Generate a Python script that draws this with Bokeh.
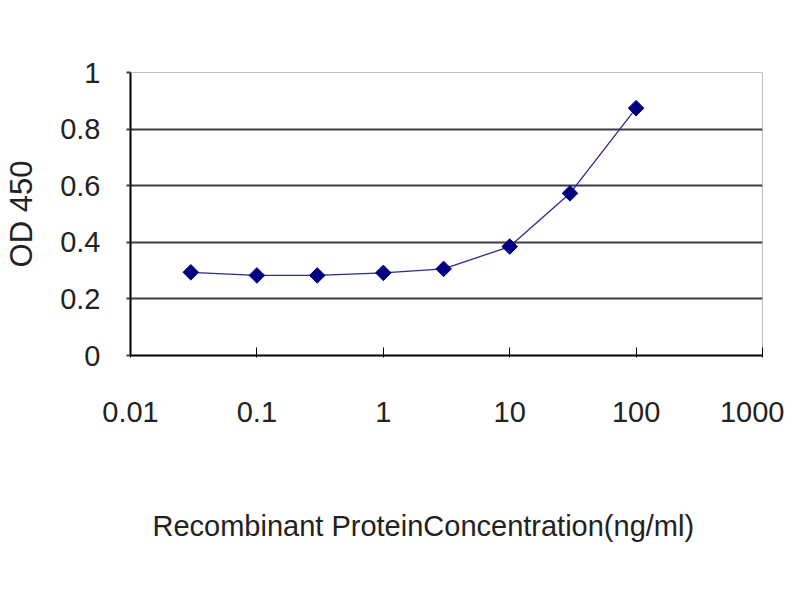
import math
from bokeh.plotting import figure
from bokeh.models import FixedTicker, Range1d, Title
from bokeh.embed import file_html
from bokeh.resources import INLINE

# Data
concentration = [0.03, 0.1, 0.3, 1, 3, 10, 30, 100]
od450 = [0.294, 0.283, 0.283, 0.292, 0.306, 0.385, 0.573, 0.874]

x_ticks = [0.01, 0.1, 1, 10, 100, 1000]
x_tick_labels = ["0.01", "0.1", "1", "10", "100", "1000"]
y_ticks = [0, 0.2, 0.4, 0.6, 0.8, 1.0]
y_tick_labels = ["0", "0.2", "0.4", "0.6", "0.8", "1"]

x_title = "Recombinant ProteinConcentration(ng/ml)"
y_title = "OD 450"

FONT = "Liberation Sans"
TEXT_COLOR = "#222222"

p = figure(frame_width=632, frame_height=283, x_axis_type="log",
           x_range=Range1d(0.01, 1000), y_range=Range1d(0, 1),
           output_backend="svg", toolbar_location=None,
           min_border_left=130, min_border_right=22,
           min_border_top=72, min_border_bottom=229)

p.background_fill_color = "white"
p.border_fill_color = "white"
p.outline_line_color = "#c0c0c0"
p.outline_line_width = 1

# grid
p.xgrid.grid_line_color = None
p.ygrid.ticker = FixedTicker(ticks=y_ticks)
p.ygrid.grid_line_color = "#3c3c3c"
p.ygrid.grid_line_width = 2

# x axis
xa = p.xaxis[0]
xa.ticker = FixedTicker(ticks=x_ticks, minor_ticks=[])
xa.major_label_overrides = {t: l for t, l in zip(x_ticks, x_tick_labels)}
xa.axis_line_color = "black"
xa.axis_line_width = 2
xa.major_tick_line_color = "black"
xa.major_tick_line_width = 1
xa.major_tick_in = 8
xa.major_tick_out = 2
xa.minor_tick_line_color = None
xa.major_label_text_font = FONT
xa.major_label_text_font_size = "29px"
xa.major_label_text_color = TEXT_COLOR
xa.major_label_standoff = 44

# x axis title, placed like the reference (left of the frame centre)
p.add_layout(Title(text=x_title, align="left", offset=22, standoff=167,
                   text_font=FONT, text_font_size="29px",
                   text_font_style="normal", text_color=TEXT_COLOR), "below")

# y axis
ya = p.yaxis[0]
ya.ticker = FixedTicker(ticks=y_ticks, minor_ticks=[])
ya.major_label_overrides = {t: l for t, l in zip(y_ticks, y_tick_labels)}
ya.axis_line_color = "black"
ya.axis_line_width = 2
ya.major_tick_line_color = "#3c3c3c"
ya.major_tick_line_width = 2
ya.major_tick_in = 0
ya.major_tick_out = 4
ya.minor_tick_line_color = None
ya.major_label_text_font = FONT
ya.major_label_text_font_size = "29px"
ya.major_label_text_color = TEXT_COLOR
ya.major_label_standoff = 26
ya.axis_label = y_title
ya.axis_label_text_font = FONT
ya.axis_label_text_font_size = "31px"
ya.axis_label_text_font_style = "normal"
ya.axis_label_text_color = TEXT_COLOR
ya.axis_label_standoff = 18

# series
p.line(concentration, od450, line_color="#2a2a90", line_width=1.3)
p.scatter(concentration, od450, marker="square", angle=math.pi / 4, size=11,
          fill_color="#000080", line_color="#000080")

open("out.html", "w").write(file_html(p, INLINE))
